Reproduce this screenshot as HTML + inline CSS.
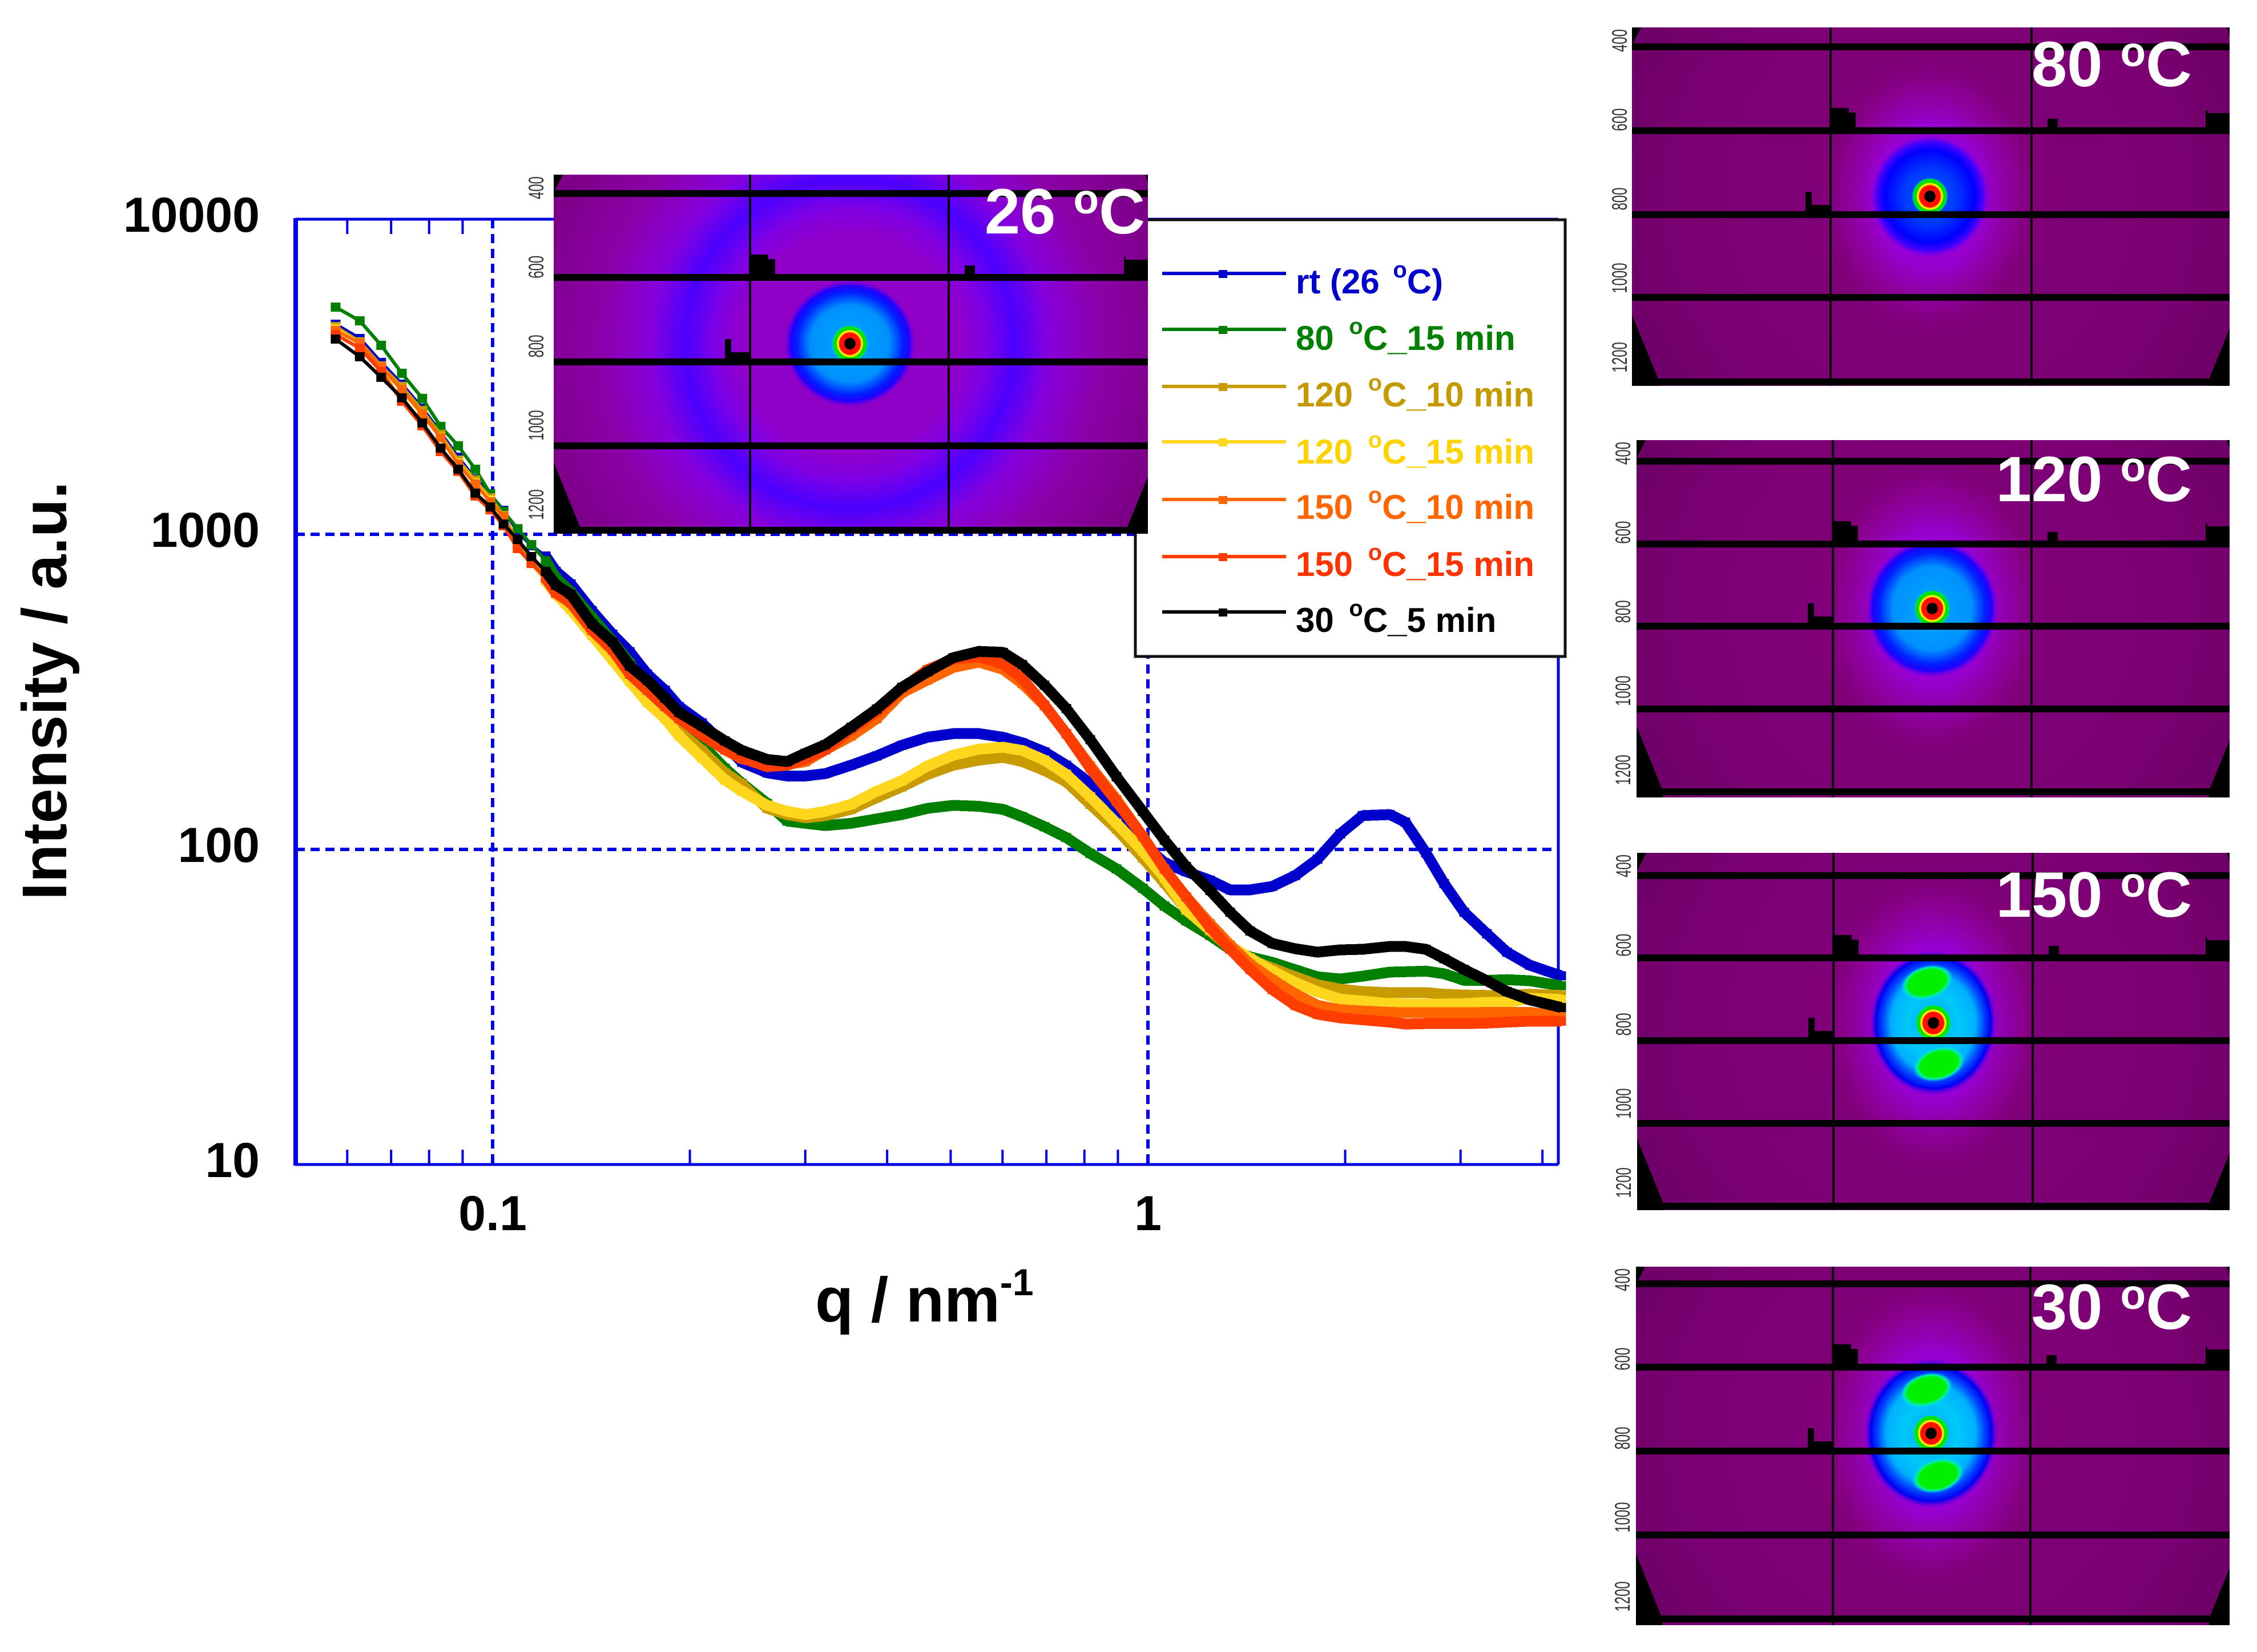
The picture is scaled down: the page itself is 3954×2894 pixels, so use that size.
<!DOCTYPE html>
<html>
<head>
<meta charset="utf-8">
<title>SAXS intensity profiles with 2D patterns</title>
<style>
html,body{margin:0;padding:0;background:#fff;overflow:hidden;}
svg{display:block;}
text{font-family:"Liberation Sans",Arial,sans-serif;font-weight:bold;}
</style>
</head>
<body>
<svg id="figure" xmlns="http://www.w3.org/2000/svg" width="3954" height="2894" viewBox="0 0 3954 2894">
  <defs>
    <radialGradient id="gRing">
      <stop offset="0" stop-color="#9200c4"/><stop offset="0.25" stop-color="#9000c8"/>
      <stop offset="0.31" stop-color="#8000e4"/><stop offset="0.38" stop-color="#4c00ff"/>
      <stop offset="0.46" stop-color="#8600dc"/><stop offset="0.58" stop-color="#8c00a8"/>
      <stop offset="0.75" stop-color="#7c0086"/><stop offset="1" stop-color="#5e005c"/>
    </radialGradient>
    <radialGradient id="gBase">
      <stop offset="0" stop-color="#82007a"/><stop offset="0.6" stop-color="#7c0074"/><stop offset="1" stop-color="#660060"/>
    </radialGradient>
    <radialGradient id="gHalo">
      <stop offset="0" stop-color="#9a00e0"/><stop offset="0.5" stop-color="#9800d0"/>
      <stop offset="0.78" stop-color="#90009c" stop-opacity="0.7"/><stop offset="1" stop-color="#80007c" stop-opacity="0"/>
    </radialGradient>
    <radialGradient id="gBlobBlue">
      <stop offset="0" stop-color="#0060ff"/><stop offset="0.45" stop-color="#0038ff"/>
      <stop offset="0.75" stop-color="#0000ff"/><stop offset="0.88" stop-color="#4000ff"/>
      <stop offset="1" stop-color="#8000e0" stop-opacity="0"/>
    </radialGradient>
    <radialGradient id="gBlobCyan">
      <stop offset="0" stop-color="#00a8ff"/><stop offset="0.6" stop-color="#0090ff"/>
      <stop offset="0.8" stop-color="#0020ff"/><stop offset="0.9" stop-color="#2000ff"/>
      <stop offset="1" stop-color="#7a00e0" stop-opacity="0"/>
    </radialGradient>
    <radialGradient id="gBlobStrong">
      <stop offset="0" stop-color="#00a8ff"/><stop offset="0.4" stop-color="#00c8f8"/>
      <stop offset="0.66" stop-color="#00b0ff"/><stop offset="0.8" stop-color="#0040ff"/>
      <stop offset="0.9" stop-color="#0000f0"/><stop offset="1" stop-color="#8000e0" stop-opacity="0"/>
    </radialGradient>
    <radialGradient id="gGreen">
      <stop offset="0" stop-color="#00f000"/><stop offset="0.72" stop-color="#00f000"/>
      <stop offset="0.86" stop-color="#00f0a0"/><stop offset="1" stop-color="#00e0f0" stop-opacity="0"/>
    </radialGradient>
    <radialGradient id="gCore">
      <stop offset="0" stop-color="#000"/><stop offset="0.3" stop-color="#000"/>
      <stop offset="0.33" stop-color="#ff1000"/><stop offset="0.6" stop-color="#ff1000"/>
      <stop offset="0.64" stop-color="#ffe800"/><stop offset="0.72" stop-color="#ffe800"/>
      <stop offset="0.76" stop-color="#00e000"/><stop offset="0.93" stop-color="#00e800"/>
      <stop offset="1" stop-color="#00e0e0" stop-opacity="0.2"/>
    </radialGradient>
  </defs>
  <rect width="3954" height="2894" fill="#ffffff"/>
  <g id="plot"></g>

  <g>
    <rect x="1989" y="385" width="753" height="765" fill="#ffffff" stroke="#111111" stroke-width="5"/>
    <g id="legend-keys"></g>
    <g font-size="60" xml:space="preserve">
      <text x="2270" y="514" fill="#0000cc" xml:space="preserve">rt (26 <tspan dx="7" dy="-28" font-size="40">o</tspan><tspan dy="28">C)</tspan></text>
      <text x="2270" y="613" fill="#008000" xml:space="preserve">80 <tspan dx="10" dy="-28" font-size="40">o</tspan><tspan dy="28">C_15 min</tspan></text>
      <text x="2270" y="712" fill="#c49a00" xml:space="preserve">120 <tspan dx="10" dy="-28" font-size="40">o</tspan><tspan dy="28">C_10 min</tspan></text>
      <text x="2270" y="812" fill="#ffd200" xml:space="preserve">120 <tspan dx="10" dy="-28" font-size="40">o</tspan><tspan dy="28">C_15 min</tspan></text>
      <text x="2270" y="909" fill="#ff6600" xml:space="preserve">150 <tspan dx="10" dy="-28" font-size="40">o</tspan><tspan dy="28">C_10 min</tspan></text>
      <text x="2270" y="1009" fill="#ff3300" xml:space="preserve">150 <tspan dx="10" dy="-28" font-size="40">o</tspan><tspan dy="28">C_15 min</tspan></text>
      <text x="2270" y="1107" fill="#000000" xml:space="preserve">30 <tspan dx="10" dy="-28" font-size="40">o</tspan><tspan dy="28">C_5 min</tspan></text>
    </g>
  </g>

  <g id="panels"></g>

  <text transform="translate(116,1210) rotate(-90)" text-anchor="middle" font-size="110" fill="#000">Intensity / a.u.</text>
  <text x="1428" y="2315" font-size="110" fill="#000">q / nm<tspan dy="-46" font-size="66">-1</tspan></text>
</svg>

<script>
// ---------- chart data ----------
const qValues = [0.0576,0.0627,0.0676,0.0727,0.0781,0.0833,0.0886,0.0941,0.0992,0.1039,0.1092,0.1146,0.1205,0.1249,0.1316,0.1418,0.1524,0.1619,0.1722,0.1833,0.1926,0.2087,0.2262,0.2402,0.2624,0.2815,0.3002,0.3220,0.3524,0.3857,0.4213,0.4610,0.5047,0.5523,0.6010,0.6431,0.6954,0.7507,0.8166,0.8957,0.9822,1.060,1.144,1.244,1.335,1.432,1.548,1.678,1.815,1.966,2.126,2.340,2.471,2.656,2.832,3.038,3.291,3.531,3.826,4.272];
const intensityRt = [4642,4182,3511,2996,2515,2101,1756,1499,1339,1191,1021,920,853,763,696,572,482,424,360,320,284,252,214,189,175,171,171,174,185,198,214,227,233,233,227,218,204,185,162,133,104,90.8,85.0,79.8,74.4,74.4,76.3,82.6,93.1,112,128,129,122,97.5,77.9,63.2,54.0,47.2,42.9,39.7];
const intensity80C15 = [5260,4759,3978,3243,2700,2200,1909,1609,1345,1181,1042,927,825,728,656,546,458,391,320,274,249,215,181,162,140,123,121,119,121,125,129,135,138,137,134,127,118,109,97.1,86.7,75.3,66.1,59.3,53.3,48.2,45.6,43.8,41.5,39.4,38.8,39.6,40.8,40.9,41.1,40.3,38.4,38.4,38.6,38.3,36.9];
const intensity120C10 = [4564,4084,3424,2947,2473,2075,1720,1487,1306,1148,939,829,737,664,594,492,411,351,298,262,237,206,175,161,135,129,126,128,134,146,158,173,185,192,196,190,178,164,139,116,93.9,78.2,64.5,55.1,48.6,44.7,42.0,39.4,37.2,36.0,35.4,35.1,35.1,35.1,34.7,34.5,34.4,34.4,34.7,34.4];
const intensity120C15 = [4490,4045,3353,2862,2392,2033,1684,1456,1285,1119,908,808,713,645,577,478,399,341,293,260,229,195,166,153,138,132,129,132,139,153,165,184,199,208,211,206,192,173,147,121,98.7,81.2,64.2,55.6,49.4,45.2,41.1,37.8,35.3,33.5,33.0,32.4,32.3,32.3,32.3,32.4,32.7,32.7,33.7,33.4];
const intensity150C10 = [4433,4045,3395,2876,2412,2024,1670,1444,1269,1138,908,815,725,651,606,502,434,363,324,285,260,232,207,194,186,186,190,207,229,260,314,345,378,393,373,336,286,233,184,144,110,86.7,70.7,58.1,49.7,43.2,38.6,34.8,32.0,31.0,30.7,30.4,30.3,30.3,30.3,30.3,30.4,30.4,30.4,29.6];
const intensity150C15 = [4306,3896,3284,2644,2209,1831,1583,1323,1196,1064,901,808,725,651,606,496,429,360,320,284,260,231,207,195,183,185,194,207,240,273,324,372,402,408,388,348,287,233,181,142,110,86.7,70.7,56.5,48.2,41.6,35.9,32.0,30.0,29.2,28.8,28.3,27.9,28.0,28.0,28.0,28.1,28.3,28.5,28.5];
const intensity30C5 = [4165,3660,3150,2711,2256,1877,1609,1351,1221,1078,963,850,763,690,645,520,455,382,344,302,272,246,221,206,193,190,202,215,244,279,327,366,406,425,422,386,332,280,223,170,132,107,88.2,74.1,63.2,55.1,50.3,48.4,47.2,48.0,48.2,49.2,49.2,48.2,45.0,41.6,38.3,35.4,33.3,31.5];

const seriesNames = ['rt','80c-15min','120c-10min','120c-15min','150c-10min','150c-15min','30c-5min'];
const seriesColors = ['#0000cc','#007f00','#c89b00','#ffd61e','#ff6600','#ff3d00','#000000'];
const seriesValues = [intensityRt,intensity80C15,intensity120C10,intensity120C15,intensity150C10,intensity150C15,intensity30C5];

const yTickValues = [10,100,1000,10000];
const yTickLabels = ['10','100','1000','10000'];
const xTickValues = [0.1,1];
const xTickLabels = ['0.1','1'];
const xMinorTicks = [0.06,0.07,0.08,0.09,0.2,0.3,0.4,0.5,0.6,0.7,0.8,0.9,2,3,4];
const gridX = [0.1,1];
const gridY = [100,1000];

const patternTicks = ['400','600','800','1000','1200'];
const patternBands = [0,1,2,3,4];

// ---------- axis functions ----------
const PLOT = {left:518,right:2730,top:384,bottom:2040};
function xScale(q){ return 2011 + 1148*Math.log10(q); }
function yScale(i){ return 2040 - 552*(Math.log10(i)-1); }

const NS = 'http://www.w3.org/2000/svg';
function make(tag, attrs, parent){
  const e = document.createElementNS(NS, tag);
  for (const k in attrs) e.setAttribute(k, attrs[k]);
  parent.appendChild(e);
  return e;
}
const plot = document.getElementById('plot');
const AXIS = '#0000e6';

// grid
gridX.forEach(function(q){
  const g = make('line',{x1:xScale(q),x2:xScale(q),y1:PLOT.top,y2:PLOT.bottom,stroke:AXIS,'stroke-width':6,'stroke-dasharray':'16 10'},plot);
  
  
});
gridY.forEach(function(v){
  const g = make('line',{x1:PLOT.left,x2:PLOT.right,y1:yScale(v),y2:yScale(v),stroke:AXIS,'stroke-width':6,'stroke-dasharray':'16 10'},plot);
  
  
});

// minor ticks
xMinorTicks.forEach(function(q){
  const b = make('line',{x1:xScale(q),x2:xScale(q),y1:PLOT.bottom,y2:PLOT.bottom-26,stroke:AXIS,'stroke-width':4},plot);
  
  
  const t = make('line',{x1:xScale(q),x2:xScale(q),y1:PLOT.top,y2:PLOT.top+26,stroke:AXIS,'stroke-width':4},plot);
  
  
});

// axis frame
const axisLeft = make('line',{x1:PLOT.left,x2:PLOT.left,y1:PLOT.top-2,y2:PLOT.bottom+2,stroke:AXIS,'stroke-width':8},plot);


const axisBottom = make('line',{x1:PLOT.left,x2:PLOT.right,y1:PLOT.bottom,y2:PLOT.bottom,stroke:AXIS,'stroke-width':5},plot);


const axisTop = make('line',{x1:PLOT.left,x2:PLOT.right,y1:PLOT.top,y2:PLOT.top,stroke:AXIS,'stroke-width':5},plot);


const axisRight = make('line',{x1:PLOT.right,x2:PLOT.right,y1:PLOT.top,y2:PLOT.bottom,stroke:AXIS,'stroke-width':5},plot);



// tick labels
yTickValues.forEach(function(v,i){
  const t = make('text',{x:455,y:yScale(v)+22,'text-anchor':'end','font-size':86,fill:'#000'},plot);
  t.textContent = yTickLabels[i];
  
  
});
xTickValues.forEach(function(v,i){
  const t = make('text',{x:xScale(v),y:2155,'text-anchor':'middle','font-size':86,fill:'#000'},plot);
  t.textContent = xTickLabels[i];
  
  
});

// series
const BAND_START = 12; // where the markers in the picture merge into a solid band
seriesValues.forEach(function(vals,s){
  const g = make('g',{},plot);
  
  
  const pts = vals.map(function(v,i){ return xScale(qValues[i]).toFixed(1)+','+yScale(v).toFixed(1); });
  const thin = make('polyline',{points:pts.join(' '),fill:'none',stroke:seriesColors[s],'stroke-width':6,'stroke-linejoin':'round'},g);
  
  
  const band = make('polyline',{points:pts.slice(BAND_START).join(' '),fill:'none',stroke:seriesColors[s],'stroke-width':19,'stroke-linejoin':'bevel','shape-rendering':'crispEdges'},g);
  
  
  vals.forEach(function(v,i){
    const m = make('rect',{x:xScale(qValues[i])-8.5,y:yScale(v)-8,width:17,height:16,fill:seriesColors[s]},g);
    
    
  });
});

// legend keys
const legendKeyY = [479,577,677,774,875,975,1072];
const legendKeys = document.getElementById('legend-keys');
seriesColors.forEach(function(c,i){
  const l = make('line',{x1:2036,x2:2253,y1:legendKeyY[i],y2:legendKeyY[i],stroke:c,'stroke-width':6},legendKeys);
  
  
  const r = make('rect',{x:2135,y:legendKeyY[i]-6,width:15,height:14,fill:c},legendKeys);
  
  
});

// ---------- scattering pattern panels ----------
const panelConfigs = [
  {id:'26c',label:'26',x:970,y:306,w:1041,h:629,bands:[339,486,634,781,929],v:[1314,1662],cx:1489,cy:602,tx:2006,ty:409,tickX:952,ring:true,blob:[116,112,'gBlobCyan'],halo:null,greens:null},
  {id:'80c',label:'80',x:2859,y:48,w:1047,h:628,bands:[82,229,376,521,669],v:[3207,3559],cx:3381,cy:344,tx:3840,ty:151,tickX:2850,ring:false,blob:[105,108,'gBlobBlue'],halo:[195,250],greens:null},
  {id:'120c',label:'120',x:2867,y:771,w:1039,h:626,bands:[808,953,1097,1242,1387],v:[3211,3559],cx:3385,cy:1066,tx:3840,ty:878,tickX:2856,ring:false,blob:[116,122,'gBlobCyan'],halo:[200,265],greens:null},
  {id:'150c',label:'150',x:2868,y:1494,w:1038,h:626,bands:[1534,1678,1823,1968,2113],v:[3212,3561],cx:3387,cy:1792,tx:3840,ty:1606,tickX:2857,ring:false,blob:[112,128,'gBlobStrong'],halo:[195,270],greens:[[-11,-71],[10,72]]},
  {id:'30c',label:'30',x:2866,y:2219,w:1040,h:628,bands:[2249,2395,2542,2689,2836],v:[3211,3557],cx:3383,cy:2511,tx:3840,ty:2328,tickX:2855,ring:false,blob:[118,132,'gBlobStrong'],halo:[200,280],greens:[[-8,-76],[12,74]]}
];
const panelsRoot = document.getElementById('panels');
panelConfigs.forEach(function(p){
  const root = make('g',{},panelsRoot);
  
  

  const vp = make('svg',{x:p.x,y:p.y,width:p.w,height:p.h,viewBox:'0 0 '+p.w+' '+p.h},root);
  
  

  const cx = p.cx-p.x, cy = p.cy-p.y;

  // per-panel copy of the background gradient, centred on the beam
  const grad = document.getElementById(p.ring?'gRing':'gBase').cloneNode(true);
  const gradId = 'bg-' + p.id;
  grad.setAttribute('id', gradId);
  grad.setAttribute('gradientUnits', 'userSpaceOnUse');
  grad.setAttribute('cx', cx);
  grad.setAttribute('cy', cy);
  grad.setAttribute('r', p.ring?760:680);
  vp.appendChild(grad);

  const base = make('rect',{width:p.w,height:p.h,fill:'url(#'+gradId+')'},vp);
  
  
  if (p.halo){
    const h = make('ellipse',{cx:cx,cy:cy,rx:p.halo[0],ry:p.halo[1],fill:'url(#gHalo)'},vp);
    
    
  }
  const blob = make('ellipse',{cx:cx,cy:cy,rx:p.blob[0],ry:p.blob[1],fill:'url(#'+p.blob[2]+')'},vp);
  
  
  if (p.greens){
    p.greens.forEach(function(o){
      const gx = cx+o[0], gy = cy+o[1];
      const gr = make('ellipse',{cx:gx,cy:gy,rx:46,ry:29,fill:'url(#gGreen)',transform:'rotate(-16 '+gx+' '+gy+')'},vp);
      
      
    });
  }
  const core = make('ellipse',{cx:cx,cy:cy,rx:31,ry:32,fill:'url(#gCore)'},vp);
  
  

  // detector gaps
  patternBands.forEach(function(i){
    const b = make('rect',{x:0,y:p.bands[i]-p.y-6,width:p.w,height:12,fill:'#000'},vp);
    
    
  });
  p.v.forEach(function(vx){
    const b = make('rect',{x:vx-p.x-2,y:0,width:4,height:p.h,fill:'#000'},vp);
    
    
  });

  // masked pixels
  const v1 = p.v[0]-p.x, v2 = p.v[1]-p.x, b2 = p.bands[1]-p.y-6, b3 = p.bands[2]-p.y-6, W = p.w, H = p.h;
  const maskPaths = [
    'M'+v1+' '+b2+'V'+(b2-34)+'h32v8h12V'+b2+'Z',
    'M'+(v2+28)+' '+b2+'v-15h18v15Z',
    'M'+(W-42)+' '+b2+'v-30h3v5H'+W+'V'+b2+'Z',
    'M'+(v1-44)+' '+b3+'v-34h11v23H'+v1+'V'+b3+'Z',
    'M0 '+H+'V'+(H-125)+'L46 '+(H-12)+'V'+H+'Z',
    'M'+W+' '+H+'V'+(H-100)+'L'+(W-36)+' '+(H-12)+'V'+H+'Z',
    'M0 0H16L0 32Z',
    'M'+W+' 0H'+(W-5)+'L'+W+' 14Z'
  ];
  maskPaths.forEach(function(d){
    const m = make('path',{d:d,fill:'#000'},vp);
    
    
  });

  // rotated pixel-scale labels
  patternTicks.forEach(function(t,i){
    const ty = p.y + 23 + i*138.7;
    const tick = make('text',{transform:'translate('+p.tickX+','+ty+') rotate(-90) scale(0.8,1.25)','text-anchor':'middle','font-size':30,fill:'#333',style:'font-weight:normal'},root);
    tick.textContent = t;
    
    
  });

  // temperature label
  const lab = make('text',{x:p.tx,y:p.ty,'text-anchor':'end','font-size':112,fill:'#fff'},root);
  
  
  lab.appendChild(document.createTextNode(p.label + ' '));
  const sup = make('tspan',{dy:-35,'font-size':73},lab);
  sup.textContent = 'o';
  const unit = make('tspan',{dy:35},lab);
  unit.textContent = 'C';
});
</script>
</body>
</html>
